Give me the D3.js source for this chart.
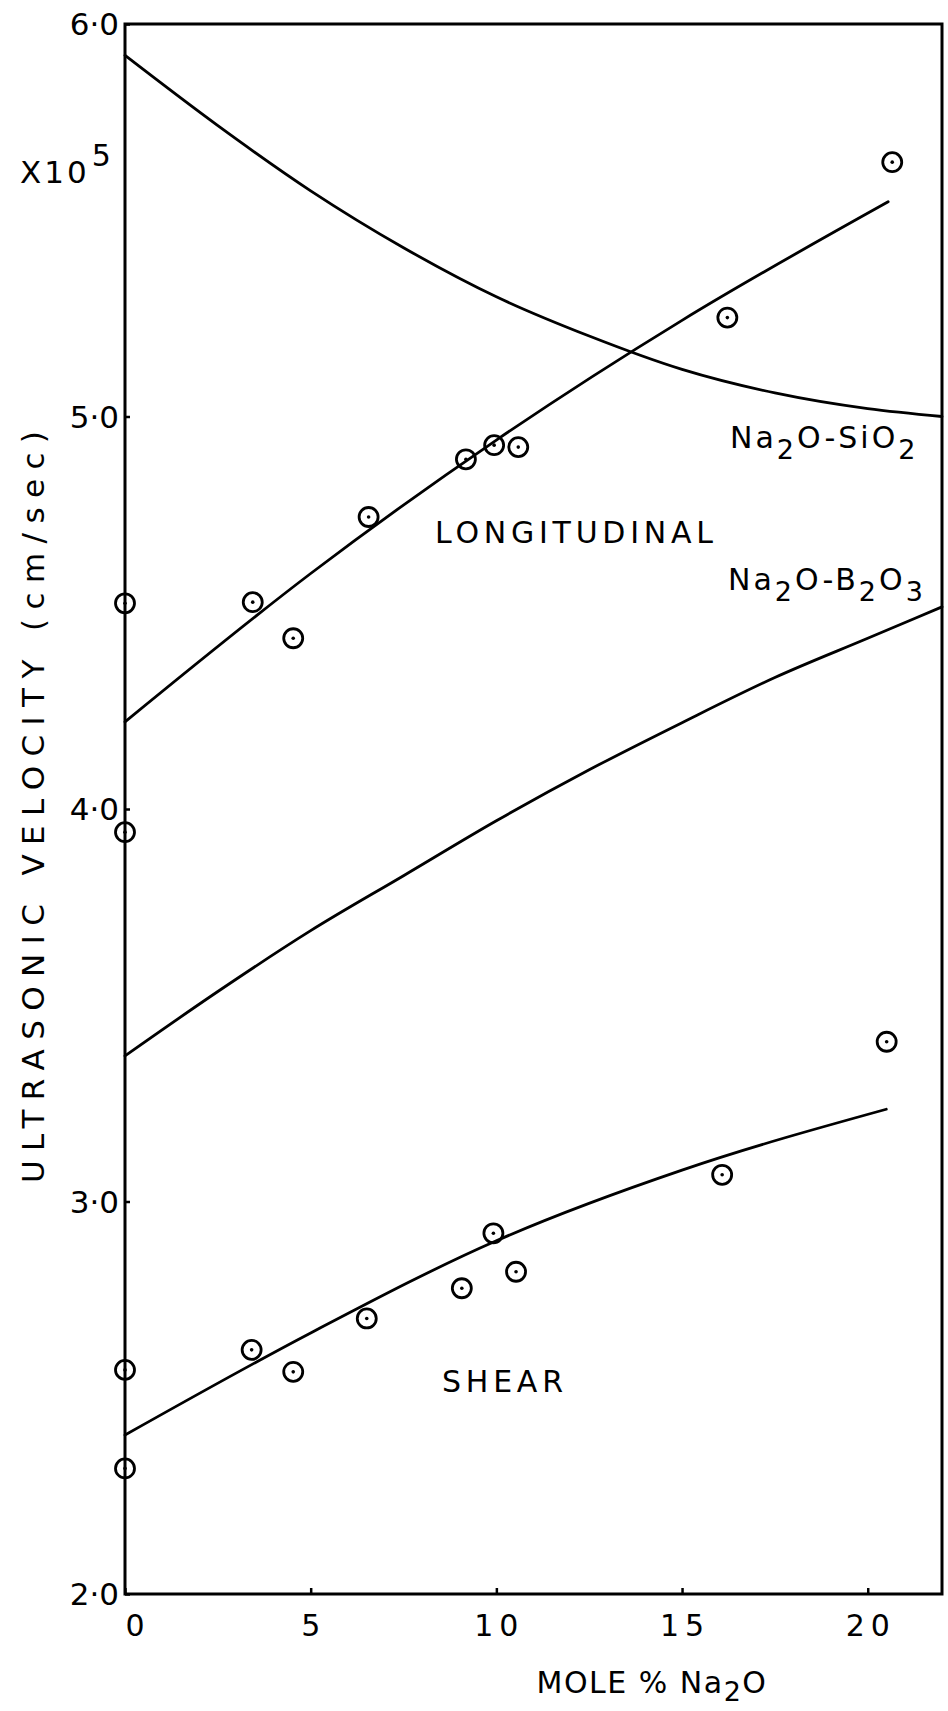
<!DOCTYPE html>
<html>
<head>
<meta charset="utf-8">
<script src="https://cdn.jsdelivr.net/npm/d3@7"></script>
<style>
  html, body { margin: 0; padding: 0; background: #fff; }
  svg { display: block; }
  text { font-family: "DejaVu Sans", sans-serif; fill: #000; }
</style>
</head>
<body>
<svg id="chart" width="948" height="1711"></svg>
<script>
// ---------- data ----------
const xTicks = [0, 5, 10, 15, 20];
const xTickLabels = ["0", "5", "10", "15", "20"];
const yTicks = [2, 3, 4, 5, 6];
const yTickLabels = ["2·0", "3·0", "4·0", "5·0", "6·0"];

// Na2O-SiO2 longitudinal curve (decreasing)
const silicaX = [0, 2.5, 5, 7.5, 10, 12.5, 15, 17.5, 20, 22];
const silicaV = [5.92, 5.741, 5.575, 5.43, 5.305, 5.205, 5.12, 5.06, 5.02, 5.0];

// longitudinal fitted curve through the measured points
const longX = [0, 5, 10, 15, 20.55];
const longV = [4.222, 4.60, 4.94, 5.245, 5.547];

// Na2O-B2O3 longitudinal curve
const boraX = [0, 2.5, 5, 7.5, 10, 12.5, 15, 17.5, 20, 22];
const boraV = [3.371, 3.535, 3.69, 3.83, 3.97, 4.10, 4.22, 4.335, 4.435, 4.515];

// shear fitted curve
const shearX = [0, 5, 10, 15, 20.5];
const shearV = [2.405, 2.665, 2.90, 3.08, 3.235];

// measured points
const longPtsX = [0, 0, 3.44, 4.53, 6.56, 9.18, 9.94, 10.59, 16.22, 20.66];
const longPtsV = [4.524, 3.941, 4.527, 4.435, 4.744, 4.891, 4.927, 4.922, 5.252, 5.648];
const shearPtsX = [0, 0, 3.41, 4.53, 6.51, 9.07, 9.92, 10.53, 16.08, 20.51];
const shearPtsV = [2.571, 2.320, 2.622, 2.566, 2.702, 2.779, 2.919, 2.821, 3.068, 3.407];

// ---------- drawing ----------
const svg = d3.select("#chart");
const x = d3.scaleLinear().domain([0, 22]).range([125, 942]);
const y = d3.scaleLinear().domain([2, 6]).range([1594, 24]);

const line = d3.line().x(d => x(d[0])).y(d => y(d[1])).curve(d3.curveMonotoneX);
const zip = (a, b) => a.map((v, i) => [v, b[i]]);

// frame
svg.append("rect")
  .attr("x", x(0)).attr("y", y(6))
  .attr("width", x(22) - x(0)).attr("height", y(2) - y(6))
  .attr("fill", "none").attr("stroke", "#000").attr("stroke-width", 3);

// bottom axis ticks (inward)
const xAxis = d3.axisBottom(x).tickValues(xTicks).tickSize(-6).tickFormat("");
svg.append("g").attr("transform", `translate(0,${y(2)})`).call(xAxis)
  .call(g => g.select(".domain").remove())
  .call(g => g.selectAll("line").attr("stroke-width", 2.5));
svg.append("g").selectAll("text").data(xTicks).join("text")
  .attr("x", (d, i) => x(d) + (i === 0 ? 13 : 3))
  .attr("y", y(2) + 42)
  .attr("text-anchor", "middle")
  .attr("font-size", 30)
  .attr("letter-spacing", 6)
  .text((d, i) => xTickLabels[i]);

// left axis ticks
const yAxis = d3.axisLeft(y).tickValues(yTicks).tickSize(-5).tickFormat("");
svg.append("g").attr("transform", `translate(${x(0)},0)`).call(yAxis)
  .call(g => g.select(".domain").remove())
  .call(g => g.selectAll("line").attr("stroke-width", 2.5));
svg.append("g").selectAll("text").data(yTicks).join("text")
  .attr("x", x(0) - 6)
  .attr("y", d => y(d) + 11)
  .attr("text-anchor", "end")
  .attr("font-size", 31)
  .text((d, i) => yTickLabels[i]);

// curves
const curves = [zip(silicaX, silicaV), zip(longX, longV), zip(boraX, boraV), zip(shearX, shearV)];
svg.append("g").selectAll("path").data(curves).join("path")
  .attr("d", line)
  .attr("fill", "none").attr("stroke", "#000").attr("stroke-width", 2.8)
  .attr("stroke-linecap", "round");

// points
const pts = zip(longPtsX, longPtsV).concat(zip(shearPtsX, shearPtsV));
const pg = svg.append("g").selectAll("g").data(pts).join("g")
  .attr("transform", d => `translate(${x(d[0])},${y(d[1])})`);
pg.append("circle").attr("r", 9.5).attr("fill", "none").attr("stroke", "#000").attr("stroke-width", 2.8);
pg.append("circle").attr("r", 1.8).attr("fill", "#000");

// labels
function chem(sel, parts, xPos, yPos, size) {
  const t = sel.append("text").attr("x", xPos).attr("y", yPos).attr("font-size", size)
    .attr("letter-spacing", 3);
  parts.forEach(p => {
    t.append("tspan").attr("dy", p.sub ? 11 : (p.after ? -11 : 0))
      .attr("font-size", p.sub ? size * 0.9 : size).text(p.t);
  });
  return t;
}
svg.append("text").attr("x", 435).attr("y", 543).attr("font-size", 30)
  .attr("textLength", 278).attr("lengthAdjust", "spacing").text("LONGITUDINAL");
svg.append("text").attr("x", 442).attr("y", 1392).attr("font-size", 30)
  .attr("textLength", 121).attr("lengthAdjust", "spacing").text("SHEAR");

chem(svg, [{t: "Na"}, {t: "2", sub: true}, {t: "O-SiO", after: true}, {t: "2", sub: true}], 730, 448, 30);
chem(svg, [{t: "Na"}, {t: "2", sub: true}, {t: "O-B", after: true}, {t: "2", sub: true}, {t: "O", after: true}, {t: "3", sub: true}], 728, 590, 30);

// x10^5
const ex = svg.append("text").attr("x", 20).attr("y", 183).attr("font-size", 31).attr("letter-spacing", 3);
ex.append("tspan").text("X10");
ex.append("tspan").attr("dy", -17).attr("dx", 2).attr("font-size", 30).text("5");

// axis titles
const xt = svg.append("text").attr("x", 652).attr("y", 1693).attr("text-anchor", "middle")
  .attr("font-size", 30).attr("letter-spacing", 1.5);
xt.append("tspan").text("MOLE % Na");
xt.append("tspan").attr("dy", 8).attr("font-size", 27).text("2");
xt.append("tspan").attr("dy", -8).text("O");

svg.append("text")
  .attr("transform", `translate(44,807) rotate(-90)`)
  .attr("text-anchor", "middle").attr("font-size", 31)
  .attr("textLength", 752).attr("lengthAdjust", "spacing")
  .text("ULTRASONIC VELOCITY  (cm/sec)");
</script>
</body>
</html>
